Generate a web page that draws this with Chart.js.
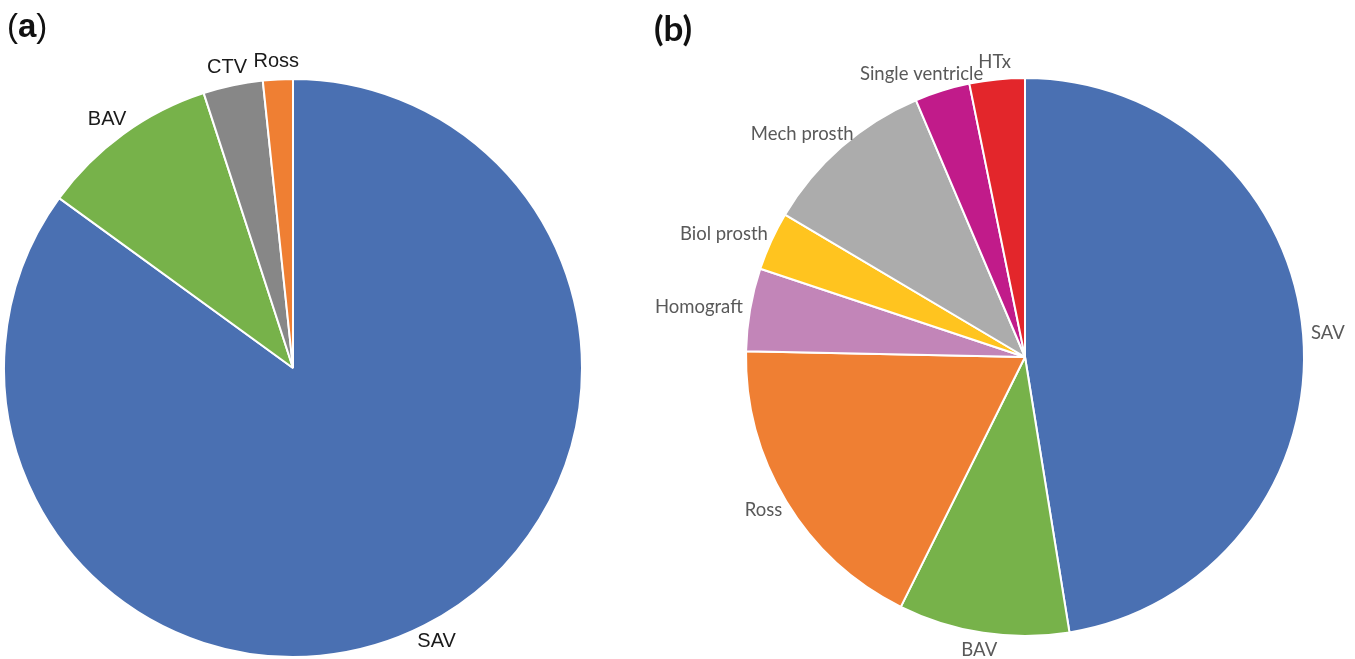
<!DOCTYPE html>
<html>
<head>
<meta charset="utf-8">
<script src="https://cdn.jsdelivr.net/npm/chart.js@4.4.0/dist/chart.umd.min.js"></script>
<style>
  html, body { margin: 0; padding: 0; background: #fff; }
  body { width: 1355px; height: 659px; position: relative; overflow: hidden; }
  .box { position: absolute; top: 0; height: 659px; }
  #boxA { left: 0; width: 640px; }
  #boxB { left: 640px; width: 715px; }
  .tag { position: absolute; color: #111; }
  #tagA { left: 7px; top: 7px; font-size: 33px; font-family: "Liberation Sans", Arial, sans-serif; }
  #tagA b, #tagB b { font-weight: bold; }
  #tagB { left: 654px; top: 6px; font-size: 35px; font-family: Lato, sans-serif; }
</style>
</head>
<body>
<div class="box" id="boxA"><canvas id="pieA"></canvas></div>
<div class="box" id="boxB"><canvas id="pieB"></canvas></div>
<div class="tag" id="tagA">(<b>a</b>)</div>
<div class="tag" id="tagB"><b>(b)</b></div>
<script>
// (a) panel
const labelsA = ['SAV', 'BAV', 'CTV', 'Ross'];
const valuesA = [51, 6, 2, 1];
const colorsA = ['#4a70b2', '#77b24a', '#878787', '#ef7f33'];

// (b) panel
const labelsB = ['SAV', 'BAV', 'Ross', 'Homograft', 'Biol prosth', 'Mech prosth', 'Single ventricle', 'HTx'];
const valuesB = [47.5, 9.9, 18.0, 4.8, 3.4, 10.1, 3.2, 3.2];
const colorsB = ['#4a70b2', '#77b24a', '#ef7f33', '#c285b8', '#ffc41f', '#acacac', '#c11b8a', '#e3262b'];

// labels just outside each slice, like office charts do
const outsideLabels = {
    id: 'outsideLabels',
    afterDraw(chart, args, opts) {
        const ctx = chart.ctx;
        const meta = chart.getDatasetMeta(0);
        ctx.save();
        ctx.font = opts.font;
        ctx.fillStyle = opts.color;
        ctx.textAlign = 'center';
        ctx.textBaseline = 'middle';
        meta.data.forEach((arc, i) => {
            const mid = (arc.startAngle + arc.endAngle) / 2;
            const dx = Math.cos(mid), dy = Math.sin(mid);
            const r = arc.outerRadius + opts.gap;
            const text = chart.data.labels[i];
            const w = ctx.measureText(text).width;
            const x = arc.x + dx * r + dx * w / 2;
            const y = arc.y + dy * r + dy * opts.size / 2;
            ctx.fillText(text, x, y);
        });
        ctx.restore();
    }
};

const makePie = (id, labels, values, colors, padding, font, size, color) => {
    new Chart(document.getElementById(id), {
        type: 'pie',
        data: {
            labels: labels,
            datasets: [{
                data: values,
                backgroundColor: colors,
                borderColor: '#ffffff',
                borderWidth: 2
            }]
        },
        options: {
            responsive: true,
            maintainAspectRatio: false,
            animation: false,
            layout: { padding: padding },
            plugins: {
                legend: { display: false },
                tooltip: { enabled: false },
                outsideLabels: { font: font, size: size, color: color, gap: 8 }
            }
        },
        plugins: [outsideLabels]
    });
};

makePie('pieA', labelsA, valuesA, colorsA,
    { left: 3, right: 57, top: 78, bottom: 1 },
    '20px "Liberation Sans", Arial, sans-serif', 20, '#1a1a1a');

makePie('pieB', labelsB, valuesB, colorsB,
    { left: 105, right: 50, top: 77, bottom: 22 },
    '18.5px Lato, sans-serif', 18, '#595959');
</script>
</body>
</html>
